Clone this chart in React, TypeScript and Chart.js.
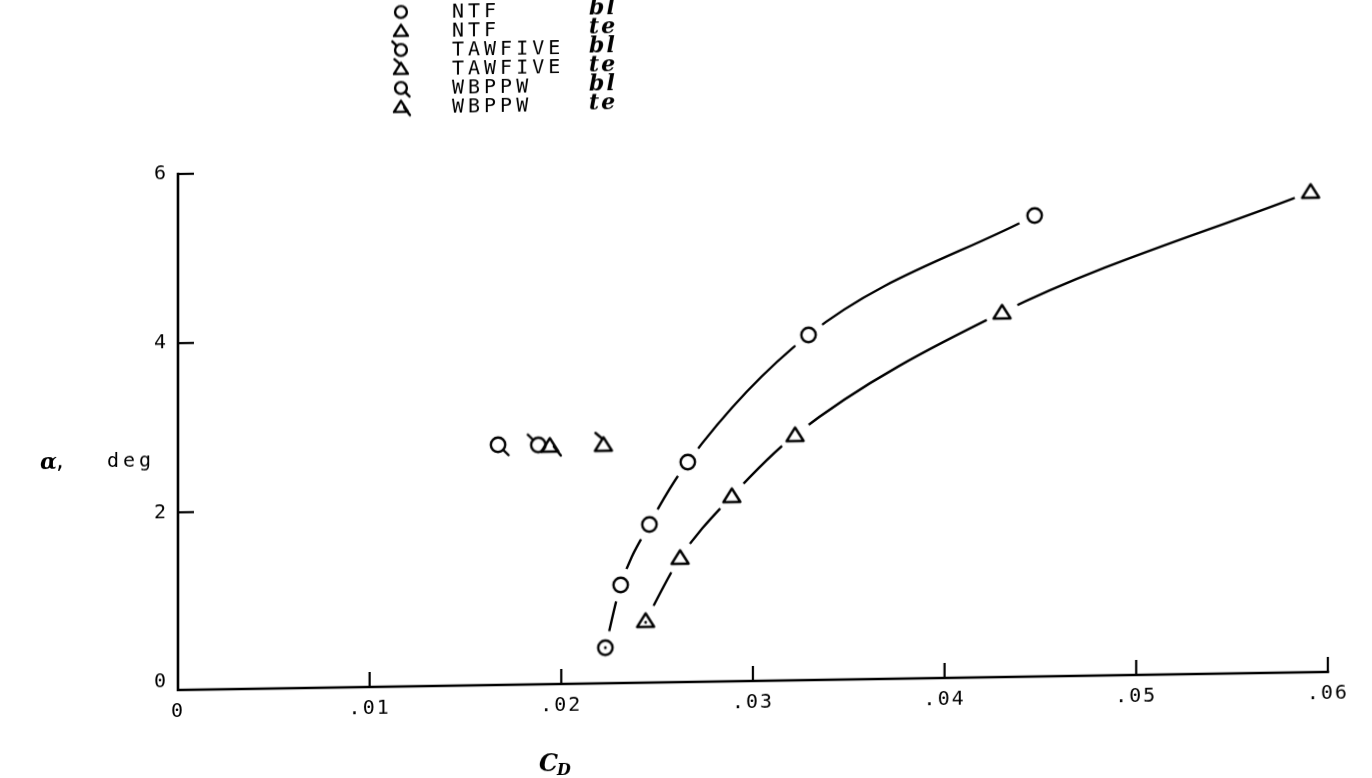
import React, { useEffect, useRef } from 'react';
import { Chart, registerables } from 'chart.js';
Chart.register(...registerables);

const W = 1372;
const H = 800;

// NTF (fitted curves)
const ntfBlCd = [0.0223, 0.0231, 0.0246, 0.0266, 0.0329, 0.0447];
const ntfBlAlpha = [0.32, 1.06, 1.77, 2.5, 3.98, 5.35];
const ntfTeCd = [0.0244, 0.0262, 0.0289, 0.0322, 0.043, 0.0591];
const ntfTeAlpha = [0.63, 1.37, 2.09, 2.8, 4.21, 5.58];
// single computed points
const tawfiveBlCd = [0.0188];
const tawfiveBlAlpha = [2.73];
const tawfiveTeCd = [0.0222];
const tawfiveTeAlpha = [2.72];
const wbppwBlCd = [0.0167];
const wbppwBlAlpha = [2.74];
const wbppwTeCd = [0.0194];
const wbppwTeAlpha = [2.72];

const xTickValues = [0, 0.01, 0.02, 0.03, 0.04, 0.05, 0.06];
const xTickLabels = ['0', '.01', '.02', '.03', '.04', '.05', '.06'];
const yTickValues = [0, 2, 4, 6];
const yTickLabels = ['0', '2', '4', '6'];
const yMin = -0.1;
const yMax = 6;

const legendNames = ['NTF', 'NTF', 'TAWFIVE', 'TAWFIVE', 'WBPPW', 'WBPPW'];
const legendTags = ['bl', 'te', 'bl', 'te', 'bl', 'te'];

type Shape = 'circle' | 'triangle';
type Mark = 'none' | 'dot' | 'nw' | 'se';

function makeMarker(shape: Shape, mark: Mark, halo = 0, k = 1): HTMLCanvasElement {
  const S = 40;
  const c = document.createElement('canvas');
  c.width = S;
  c.height = S;
  const g = c.getContext('2d')!;
  const cx = S / 2;
  const cy = S / 2;
  if (halo > 0) {
    g.fillStyle = '#fff';
    g.beginPath();
    g.arc(cx, cy, halo, 0, Math.PI * 2);
    g.fill();
  }
  g.strokeStyle = '#000';
  g.fillStyle = '#000';
  g.lineWidth = 2.4;
  g.lineCap = 'round';
  g.lineJoin = 'round';
  if (shape === 'circle') {
    g.beginPath();
    g.arc(cx, cy, 7.2 * k, 0, Math.PI * 2);
    g.stroke();
  } else {
    g.beginPath();
    g.moveTo(cx, cy - 7.5 * k);
    g.lineTo(cx + 8.5 * k, cy + 6 * k);
    g.lineTo(cx - 8.5 * k, cy + 6 * k);
    g.closePath();
    g.stroke();
  }
  if (mark === 'dot') {
    g.beginPath();
    g.arc(cx, cy + (shape === 'triangle' ? 1.5 : 0), 1.4, 0, Math.PI * 2);
    g.fill();
  } else if (mark === 'nw') {
    g.beginPath();
    if (shape === 'circle') {
      g.moveTo(cx - 5 * k, cy - 5 * k);
      g.lineTo(cx - 10.5 * k, cy - 10.5 * k);
    } else {
      g.moveTo(cx - 1 * k, cy - 6 * k);
      g.lineTo(cx - 8 * k, cy - 12 * k);
    }
    g.stroke();
  } else if (mark === 'se') {
    g.beginPath();
    if (shape === 'circle') {
      g.moveTo(cx + 5 * k, cy + 5 * k);
      g.lineTo(cx + 10.5 * k, cy + 10.5 * k);
    } else {
      g.moveTo(cx + 4 * k, cy + 1 * k);
      g.lineTo(cx + 11 * k, cy + 10 * k);
    }
    g.stroke();
  }
  return c;
}

const pts = (xs: number[], ys: number[]) => xs.map((x, i) => ({ x, y: ys[i] }));

export default function App() {
  const ref = useRef<HTMLCanvasElement>(null);
  useEffect(() => {
    const canvas = ref.current!;
    const circHalo = makeMarker('circle', 'none', 17);
    const circDotHalo = makeMarker('circle', 'dot', 17);
    const triHalo = makeMarker('triangle', 'none', 17);
    const triDotHalo = makeMarker('triangle', 'dot', 17);
    const dataMarkers = [
      makeMarker('circle', 'nw'),
      makeMarker('triangle', 'nw'),
      makeMarker('circle', 'se'),
      makeMarker('triangle', 'se'),
    ];
    const legendMarkers = [
      makeMarker('circle', 'none', 0, 0.82),
      makeMarker('triangle', 'none', 0, 0.82),
      makeMarker('circle', 'nw', 0, 0.82),
      makeMarker('triangle', 'nw', 0, 0.82),
      makeMarker('circle', 'se', 0, 0.82),
      makeMarker('triangle', 'se', 0, 0.82),
    ];

    const mono = '"DejaVu Sans Mono", monospace';

    const decor = {
      id: 'decor',
      beforeDraw(chart: any) {
        const ctx = chart.ctx;
        ctx.save();
        ctx.fillStyle = '#fff';
        ctx.fillRect(0, 0, chart.width, chart.height);
        ctx.restore();
        ctx.letterSpacing = '2px';
      },
      beforeDatasetsDraw(chart: any) {
        const ctx = chart.ctx;
        const xs = chart.scales.x;
        const ys = chart.scales.y;
        const x0 = xs.getPixelForValue(0);
        const x1 = xs.getPixelForValue(0.06);
        const y0 = ys.getPixelForValue(yMin);
        const y1 = ys.getPixelForValue(yMax);
        ctx.save();
        ctx.strokeStyle = '#000';
        ctx.lineWidth = 2.6;
        ctx.lineCap = 'square';
        ctx.beginPath();
        ctx.moveTo(x0, y1);
        ctx.lineTo(x0, y0);
        ctx.lineTo(x1, y0);
        ctx.stroke();
        ctx.lineWidth = 2.2;
        ctx.lineCap = 'butt';
        xTickValues.slice(1).forEach((v) => {
          const px = xs.getPixelForValue(v);
          ctx.beginPath();
          ctx.moveTo(px, y0);
          ctx.lineTo(px, y0 - 15);
          ctx.stroke();
        });
        yTickValues.slice(1).forEach((v) => {
          const py = ys.getPixelForValue(v);
          ctx.beginPath();
          ctx.moveTo(x0, py);
          ctx.lineTo(x0 + 16, py);
          ctx.stroke();
        });
        ctx.restore();
      },
      afterDraw(chart: any) {
        const ctx = chart.ctx;
        ctx.save();
        ctx.fillStyle = '#000';
        ctx.textBaseline = 'middle';
        ctx.textAlign = 'left';
        legendMarkers.forEach((m, i) => {
          const y = 15.5 + 19 * i;
          ctx.drawImage(m, 401 - m.width / 2, y - m.height / 2);
          ctx.letterSpacing = '4px';
          ctx.font = `20px ${mono}`;
          ctx.fillText(legendNames[i], 452, y + 1);
          ctx.letterSpacing = '2px';
          ctx.font = 'italic bold 22px "DejaVu Serif", serif';
          ctx.fillText(legendTags[i], 589, y);
        });
        // y title
        ctx.letterSpacing = '0px';
        ctx.font = 'italic bold 22px "DejaVu Serif", serif';
        ctx.fillText('α', 40, 461);
        ctx.letterSpacing = '4px';
        ctx.font = `20px ${mono}`;
        ctx.fillText(',', 54, 461);
        ctx.fillText('deg', 107, 461);
        // x title
        ctx.letterSpacing = '0px';
        ctx.font = 'italic bold 24px "DejaVu Serif", serif';
        ctx.fillText('C', 539, 771);
        ctx.font = 'italic bold 16px "DejaVu Serif", serif';
        ctx.fillText('D', 557, 777);
        ctx.restore();
        ctx.letterSpacing = '0px';
      },
    };

    const lineDs = (label: string, data: any[], styles: any[]) => ({
      label,
      data,
      showLine: true,
      borderColor: '#000',
      borderWidth: 2.4,
      cubicInterpolationMode: 'monotone',
      pointStyle: styles,
      pointRadius: 8,
      clip: false,
    });
    const markDs = (label: string, data: any[], style: any) => ({
      label,
      data,
      showLine: false,
      pointStyle: style,
      pointRadius: 8,
      clip: false,
    });

    const chart = new Chart(canvas, {
      type: 'scatter',
      data: {
        datasets: [
          lineDs('NTF bl', pts(ntfBlCd, ntfBlAlpha), ntfBlCd.map((_, i) => (i === 0 ? circDotHalo : circHalo))),
          lineDs('NTF te', pts(ntfTeCd, ntfTeAlpha), ntfTeCd.map((_, i) => (i === 0 ? triDotHalo : triHalo))),
          markDs('TAWFIVE bl', pts(tawfiveBlCd, tawfiveBlAlpha), dataMarkers[0]),
          markDs('TAWFIVE te', pts(tawfiveTeCd, tawfiveTeAlpha), dataMarkers[1]),
          markDs('WBPPW bl', pts(wbppwBlCd, wbppwBlAlpha), dataMarkers[2]),
          markDs('WBPPW te', pts(wbppwTeCd, wbppwTeAlpha), dataMarkers[3]),
        ] as any,
      },
      options: {
        animation: false,
        responsive: false,
        devicePixelRatio: 1,
        events: [],
        layout: { padding: { top: 174, right: 44, left: 0, bottom: 0 } },
        plugins: { legend: { display: false }, tooltip: { enabled: false } },
        scales: {
          x: {
            type: 'linear',
            min: 0,
            max: 0.06,
            afterFit: (s: any) => {
              s.height = H - 690;
            },
            afterBuildTicks: (s: any) => {
              s.ticks = xTickValues.map((v) => ({ value: v }));
            },
            grid: { display: false, drawTicks: false },
            border: { display: false },
            ticks: {
              callback: (_v: any, i: number) => xTickLabels[i],
              font: { family: mono, size: 20 },
              color: '#000',
              padding: 10,
              maxRotation: 0,
              autoSkip: false,
            },
          },
          y: {
            type: 'linear',
            min: yMin,
            max: yMax,
            afterFit: (s: any) => {
              s.width = 178;
            },
            afterBuildTicks: (s: any) => {
              s.ticks = yTickValues.map((v) => ({ value: v }));
            },
            grid: { display: false, drawTicks: false },
            border: { display: false },
            ticks: {
              callback: (_v: any, i: number) => yTickLabels[i],
              font: { family: mono, size: 20 },
              color: '#000',
              padding: 10,
              autoSkip: false,
            },
          },
        },
      } as any,
      plugins: [decor],
    });
    return () => chart.destroy();
  }, []);
  return (
    <div style={{ position: 'fixed', left: 0, top: 0, width: 1372, height: 778, background: '#fff', overflow: 'hidden' }}>
      <canvas
        ref={ref}
        width={W}
        height={H}
        style={{
          display: 'block',
          width: W,
          height: H,
          transform: 'skewY(-0.9deg)',
          transformOrigin: '178px 690px',
        }}
      />
    </div>
  );
}
